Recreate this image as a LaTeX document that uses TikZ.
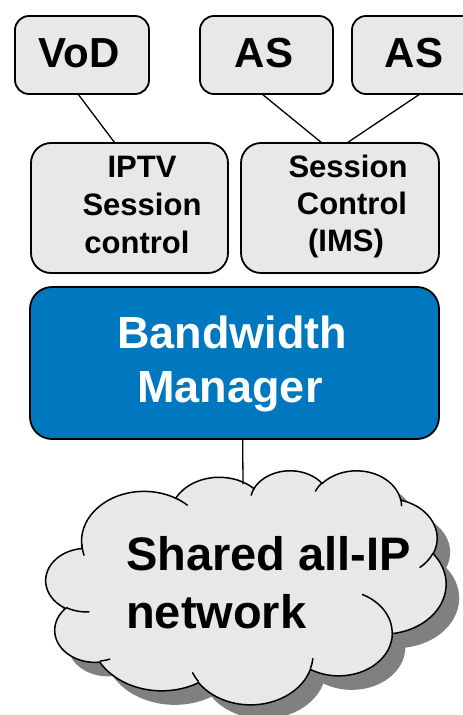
\documentclass[tikz,border=0pt]{standalone}
\usepackage{fontspec}
\setmainfont{Liberation Sans}
\usetikzlibrary{calc}
\definecolor{boxgray}{RGB}{232,232,232}
\definecolor{bmblue}{RGB}{0,120,192}
\definecolor{shadowgray}{RGB}{128,128,128}
\tikzset{
  boxbase/.style={draw=black, fill=boxgray, inner sep=0pt, outer sep=0pt},
  smallbox/.style={boxbase, line width=1.8pt, rounded corners=14pt, minimum height=78pt},
  midbox/.style={boxbase, line width=1.8pt, rounded corners=20pt, minimum height=130pt},
  bmbox/.style={draw=black, fill=bmblue, line width=1.8pt, rounded corners=22pt, inner sep=0pt, outer sep=0pt, minimum width=409pt, minimum height=152pt},
  bigtxt/.style={anchor=base, inner sep=0pt, font=\fontsize{42}{50}\selectfont\bfseries},
  midtxt/.style={anchor=base, inner sep=0pt, font=\fontsize{31}{36}\selectfont\bfseries},
  bmtxt/.style={anchor=base, inner sep=0pt, text=white, font=\fontsize{45}{52}\selectfont\bfseries},
  cloudtxt/.style={anchor=base west, inner sep=0pt, font=\fontsize{47}{54}\selectfont\bfseries},
  conn/.style={draw=black, line width=1.3pt},
  oarc/.style n args={4}{insert path={
    arc[x radius=#1, y radius=#2,
        start angle={atan2(#1*sin(#3),#2*cos(#3))},
        delta angle={atan2(#1*sin(#3+#4),#2*cos(#3+#4)) - atan2(#1*sin(#3),#2*cos(#3))
          - 360*round((atan2(#1*sin(#3+#4),#2*cos(#3+#4)) - atan2(#1*sin(#3),#2*cos(#3)) - (#4))/360)}]
  }},
}
\def\cloudpath{(390,1437)
  [oarc={675.3}{919.0}{-190.4875}{123.7805}]
  [oarc={533.3}{726.7}{-144.1024}{89.9452}]
  [oarc={436.5}{594.5}{-145.8079}{99.7230}]
  [oarc={485.7}{659.5}{-130.9861}{117.2417}]
  [oarc={533.3}{727.3}{-78.7089}{109.0269}]
  [oarc={677.5}{922.0}{-46.2673}{130.2690}]
  [oarc={578.5}{786.7}{0.6250}{114.0333}]
  [oarc={675.2}{921.5}{22.4516}{115.1726}]
  [oarc={772.0}{1054.3}{66.2426}{75.7110}]
  [oarc={436.0}{591.8}{-274.9421}{146.7356}]
  [oarc={434.5}{594.5}{-246.8285}{152.5189}]
  -- cycle}
\begin{document}
\begin{tikzpicture}[x=1pt, y=-1pt]
\useasboundingbox (0,0) rectangle (463,715);
\clip (0,0) rectangle (463,715);
\fill[white] (0,0) rectangle (463,715);

% top boxes
\node[smallbox, minimum width=134pt] (vod) at (82,55) {};
\node[smallbox, minimum width=133pt] (as1) at (266.5,55) {};
\node[smallbox, minimum width=133pt] (as2) at (418.5,55) {};
\node[bigtxt] (tvod) at (79,67) {VoD};
\node[bigtxt] (tas1) at (264,67) {AS};
\node[bigtxt] (tas2) at (414,67) {AS};

% middle boxes
\node[midbox, minimum width=197pt] (iptv) at (129.5,208) {};
\node[midbox, minimum width=198pt] (sc) at (340,208) {};
\node[midtxt] (ip1) at (142,177) {IPTV};
\node[midtxt] (ip2) at (142,215) {Session};
\node[midtxt] (ip3) at (137,253) {control};
\node[midtxt] (sc1) at (348,177) {Session};
\node[midtxt] (sc2) at (352,214) {Control};
\node[midtxt] (sc3) at (346,251) {(IMS)};

% bandwidth manager
\node[bmbox] (bm) at (234.5,363) {};
\node[bmtxt] (bm1) at (232,348) {Bandwidth};
\node[bmtxt] (bm2) at (230,402) {Manager};

% connectors
\draw[conn] ($(vod.south west)!0.47!(vod.south east)$) -- ($(iptv.north west)!0.426!(iptv.north east)$);
\draw[conn] ($(as1.south west)!0.466!(as1.south east)$) -- ($(sc.north west)!0.409!(sc.north east)$);
\draw[conn] ($(as2.south west)!0.511!(as2.south east)$) -- ($(sc.north west)!0.535!(sc.north east)$);

% cloud shadow
\begin{scope}[shift={(59,484)}, x=0.092593pt, y=-0.054167pt]
  \path[fill=shadowgray, draw=red, draw opacity=0, line width=3pt] \cloudpath;
\end{scope}
% cloud
\begin{scope}[shift={(46,470)}, x=0.092593pt, y=-0.054167pt]
  \path[fill=boxgray, draw=black, line width=1.5pt] \cloudpath;
  \begin{scope}[draw=black, line width=1.5pt]
    \draw (469.3,2617.7) [oarc={434.5}{594.5}{86.742}{26.4295}];
    \draw (692.8,3489.9) [oarc={436.0}{591.8}{73.6105}{11.4475}];
    \draw (1647.8,3909.0) [oarc={675.2}{921.5}{137.6242}{14.0811}];
    \draw (2882.7,3475.1) [oarc={675.2}{921.5}{6.4533}{15.9984}];
    \draw (3412.9,2295.4) [oarc={578.5}{786.7}{-70.2924}{70.9174}];
    \draw (4179.8,1535.4) [oarc={533.3}{727.3}{30.3180}{27.7515}];
    \draw (3832.4,542.6) [oarc={485.7}{659.5}{-13.7443}{14.8589}];
    \draw (2907.8,395.2) [oarc={485.7}{659.5}{-149.1815}{18.1954}];
    \draw (2214.1,472.0) [oarc={436.5}{594.5}{-163.4943}{17.6864}];
    \draw (1400.0,519.2) [oarc={675.3}{919.0}{-66.7070}{12.3194}];
    \draw (412.7,1578.9) [oarc={675.3}{919.0}{158.1036}{17.8267}];
  \end{scope}
\end{scope}
\coordinate (cloudtop) at (243,484);
\draw[conn] ($(bm.south west)!0.52!(bm.south east)$) -- (cloudtop);

\node[cloudtxt] (cl1) at (126,570) {Shared all-IP};
\node[cloudtxt] (cl2) at (126,628) {network};
\end{tikzpicture}
\end{document}
